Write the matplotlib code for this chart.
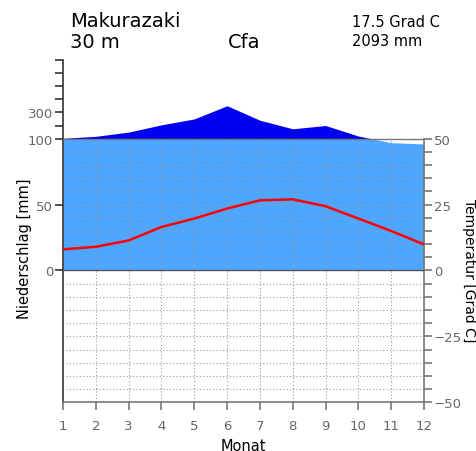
import numpy as np
import matplotlib
matplotlib.use("Agg")
import matplotlib.pyplot as plt

months = [1, 2, 3, 4, 5, 6, 7, 8, 9, 10, 11, 12]
precip = [103, 118, 150, 205, 250, 350, 240, 175, 200, 120, 97, 96]
temp = [8.0, 9.0, 11.4, 16.5, 19.7, 23.5, 26.6, 27.0, 24.4, 19.7, 15.0, 9.9]
station = "Makurazaki"
elevation = "30 m"
climate = "Cfa"
mean_temp = "17.5 Grad C"
total_precip = "2093 mm"

def p2t(p):
    p = np.asarray(p, dtype=float)
    return np.where(p <= 100, p / 2.0, 50 + (p - 100) / 20.0)

fig = plt.figure(figsize=(4.77, 4.52), dpi=100)
pos = [63/477, 1-403.3/452, 361/477, (403.3-60.6)/452]
ax = fig.add_axes(pos)
ax.set_xlim(1, 12)
ax.set_ylim(-50, 80)

xf = np.linspace(1, 12, 2000)
pm = np.interp(xf, months, p2t(precip))

light = "#4da6ff"
dark = "#0000f0"
ax.fill_between(xf, 0, np.minimum(pm, 50), color=light, lw=0, zorder=1)
ax.fill_between(xf, 50, pm, where=pm > 50, color=dark, lw=0, zorder=1, interpolate=True)

# grid
gc = "#9a9a9a"
for m in months[1:-1]:
    ax.plot([m, m], [-50, 50], ls=(0, (1, 2)), color=gc, lw=0.8, zorder=2)
for t in range(-45, 50, 5):
    if t == 0:
        continue
    ax.plot([1.08, 12], [t, t], ls=(0, (1, 2)), color=gc, lw=0.8, zorder=2)

ax.plot([1, 12], [50, 50], color="#777777", lw=1.0, zorder=3)
ax.plot([1, 12], [0, 0], color="#555555", lw=1.0, zorder=3)

ax.plot(months, temp, color="#ff0000", lw=1.8, zorder=4)

# spines
ax.spines["top"].set_visible(False)
ax.spines["left"].set_color("#333333")
ax.spines["bottom"].set_color("#777777")
ax.spines["right"].set_color("#777777")
ax.spines["right"].set_bounds(-50, 50)
for s in ["left", "bottom", "right"]:
    ax.spines[s].set_linewidth(1.2)

tc = "#666666"
lt = [0, 25, 50, 55, 60, 65, 70, 75, 80]
ll = ["0", "50", "100", "", "300", "", "", "", ""]
ax.set_yticks(lt)
ax.set_yticklabels(ll)
ax.tick_params(axis="y", which="major", direction="out", length=6, width=1.2,
               color="#333333", labelcolor=tc, labelsize=9.5, pad=1,
               left=True, right=False, labelleft=True, labelright=False)
ax.set_xticks(months)
ax.set_xticklabels([str(m) for m in months])
ax.tick_params(axis="x", direction="out", length=6, width=1.2, color="#777777",
               labelcolor=tc, labelsize=9.5, pad=6, top=False)

ax2 = fig.add_axes(pos, frameon=False)
ax2.set_xlim(1, 12)
ax2.set_ylim(-50, 80)
ax2.patch.set_visible(False)
ax2.set_xticks([])
rt = list(range(-50, 55, 5))
ax2.set_yticks(rt)
ax2.set_yticklabels([("\u221250" if t == -50 else "\u221225" if t == -25 else str(t)) if t in (-50, -25, 0, 25, 50) else "" for t in rt])
ax2.tick_params(axis="y", direction="out", length=6, width=1.2, color="#777777",
                labelcolor=tc, labelsize=9.5, pad=1, left=False, labelleft=False,
                right=True, labelright=True)

ax.set_xlabel("Monat", fontsize=10.5, labelpad=4)
fig.text(25/477, 1-249/452, "Niederschlag [mm]", rotation=90, ha="center", va="center", fontsize=10.5)
fig.text(469/477, 1-271/452, "Temperatur [Grad C]", rotation=270, ha="center", va="center", fontsize=10)

fig.text(70/477, 1-27/452, station, fontsize=14, ha="left", va="baseline")
fig.text(70/477, 1-48/452, elevation, fontsize=14, ha="left", va="baseline")
fig.text(228/477, 1-48/452, climate, fontsize=14, ha="left", va="baseline")
fig.text(352/477, 1-27/452, mean_temp, fontsize=10.5, ha="left", va="baseline")
fig.text(352/477, 1-46/452, total_precip, fontsize=10.5, ha="left", va="baseline")

fig.savefig("out.png", dpi=100)
